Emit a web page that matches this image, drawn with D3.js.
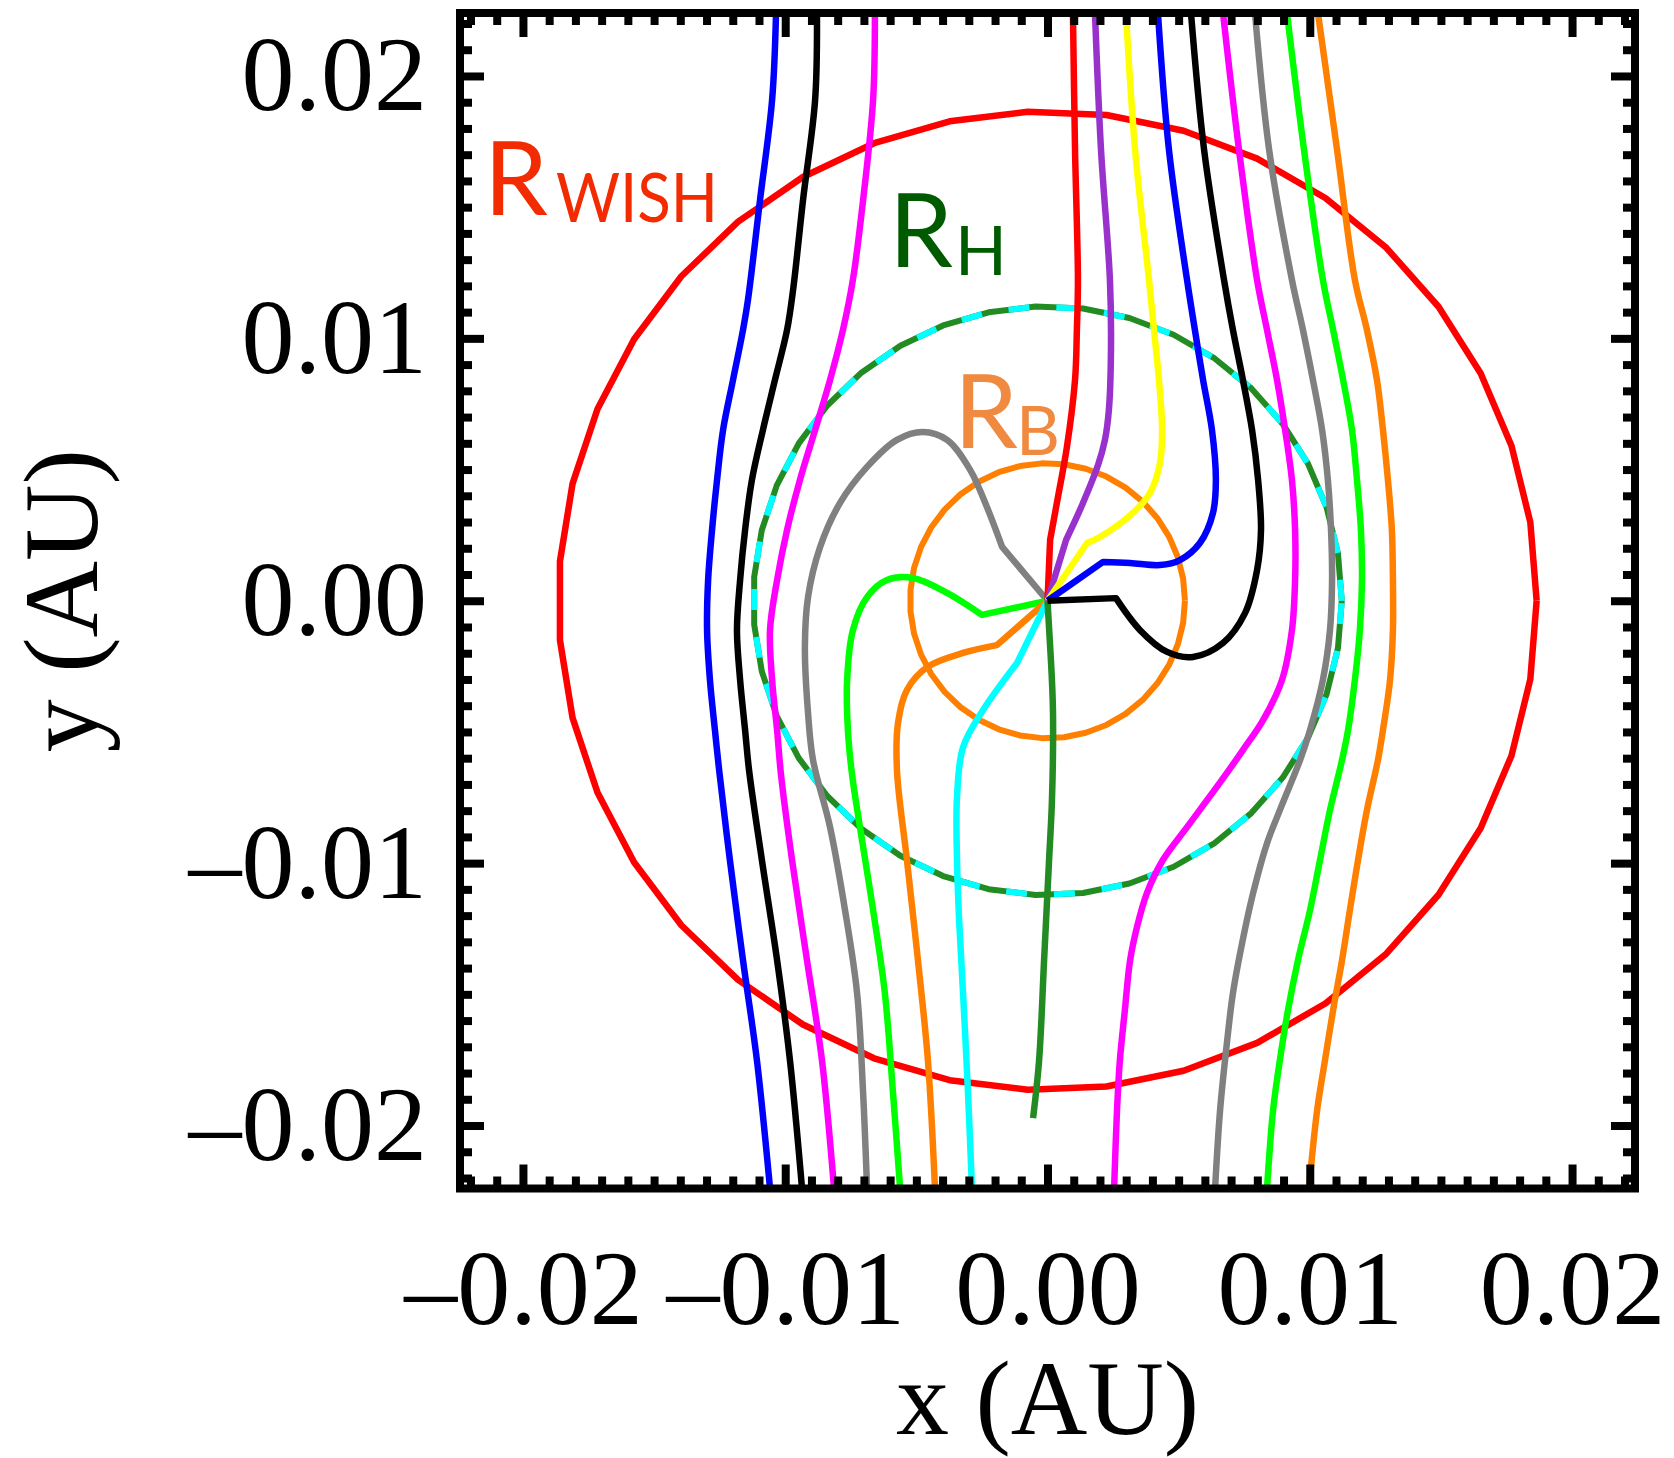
<!DOCTYPE html>
<html>
<head>
<meta charset="utf-8">
<script src="https://cdn.jsdelivr.net/npm/d3@7"></script>
<style>
  html, body { margin: 0; padding: 0; background: #ffffff; }
  svg { display: block; }
</style>
</head>
<body>
<svg id="chart" width="1674" height="1458"></svg>
<script>
// ---- Field lines, [x, y] in AU ----
// lines that pass the planet on the left, top edge to bottom edge
const blueLeft = [[-0.01035,0.02241],[-0.01050,0.01909],[-0.01096,0.01528],[-0.01142,0.01147],[-0.01161,0.01032],[-0.01199,0.00842],[-0.01237,0.00651],[-0.01260,0.00460],[-0.01279,0.00270],[-0.01294,0.00079],[-0.01298,-0.00112],[-0.01287,-0.00302],[-0.01268,-0.00493],[-0.01252,-0.00645],[-0.01211,-0.00988],[-0.01161,-0.01370],[-0.01108,-0.01751],[-0.01058,-0.02239]];
const blackLeft = [[-0.00879,0.02241],[-0.00886,0.01909],[-0.00932,0.01528],[-0.00970,0.01185],[-0.00993,0.01032],[-0.01039,0.00842],[-0.01085,0.00651],[-0.01127,0.00460],[-0.01153,0.00270],[-0.01172,0.00079],[-0.01184,-0.00112],[-0.01172,-0.00302],[-0.01153,-0.00493],[-0.01138,-0.00645],[-0.01089,-0.00988],[-0.01031,-0.01370],[-0.00982,-0.01751],[-0.00936,-0.02239]];
const magentaLeft = [[-0.00658,0.02241],[-0.00665,0.01909],[-0.00703,0.01528],[-0.00742,0.01223],[-0.00780,0.01032],[-0.00829,0.00842],[-0.00886,0.00651],[-0.00944,0.00460],[-0.00993,0.00270],[-0.01031,0.00079],[-0.01058,-0.00112],[-0.01050,-0.00302],[-0.01031,-0.00493],[-0.01016,-0.00664],[-0.00974,-0.00988],[-0.00917,-0.01370],[-0.00860,-0.01751],[-0.00814,-0.02239]];
// lines leaving the planet (origin first)
const grayLeft = [[0,0],[-0.00173,0.00205],[-0.00231,0.00357],[-0.00295,0.00499],[-0.00383,0.00613],[-0.00475,0.00643],[-0.00574,0.00613],[-0.00688,0.00510],[-0.00791,0.00373],[-0.00867,0.00205],[-0.00913,0.00014],[-0.00925,-0.00176],[-0.00913,-0.00428],[-0.00894,-0.00607],[-0.00829,-0.00863],[-0.00772,-0.01179],[-0.00726,-0.01496],[-0.00703,-0.01877],[-0.00688,-0.02239]];
const limeLeft = [[0,0],[-0.00250,-0.00054],[-0.00383,0.00030],[-0.00513,0.00087],[-0.00612,0.00079],[-0.00688,0.00014],[-0.00742,-0.00112],[-0.00764,-0.00302],[-0.00761,-0.00493],[-0.00745,-0.00664],[-0.00715,-0.00863],[-0.00665,-0.01179],[-0.00620,-0.01496],[-0.00589,-0.01877],[-0.00562,-0.02239]];
const orangeLeft = [[0,0],[-0.00193,-0.00169],[-0.00322,-0.00199],[-0.00459,-0.00253],[-0.00536,-0.00340],[-0.00570,-0.00466],[-0.00574,-0.00645],[-0.00536,-0.00988],[-0.00494,-0.01370],[-0.00456,-0.01751],[-0.00429,-0.02239]];
const cyanLine = [[0,0],[-0.00116,-0.00237],[-0.00246,-0.00417],[-0.00322,-0.00558],[-0.00345,-0.00748],[-0.00345,-0.00988],[-0.00337,-0.01217],[-0.00322,-0.01496],[-0.00303,-0.01877],[-0.00288,-0.02239]];
const forestLine = [[0,0],[0.00013,-0.00226],[0.00021,-0.00428],[0.00017,-0.00760],[0.00006,-0.00988],[-0.00013,-0.01370],[-0.00032,-0.01751],[-0.00055,-0.01972]];
const redLine = [[0,0],[0.00010,0.00232],[0.00040,0.00396],[0.00074,0.00586],[0.00105,0.00842],[0.00112,0.01032],[0.00116,0.01223],[0.00105,0.01719],[0.00097,0.02241]];
const purpleLine = [[0,0],[0.00071,0.00232],[0.00132,0.00365],[0.00193,0.00518],[0.00219,0.00613],[0.00234,0.00727],[0.00242,0.00956],[0.00238,0.01223],[0.00204,0.01719],[0.00181,0.02241]];
const yellowLine = [[0,0],[0.00151,0.00220],[0.00200,0.00243],[0.00326,0.00335],[0.00391,0.00411],[0.00429,0.00525],[0.00437,0.00651],[0.00425,0.00842],[0.00406,0.01032],[0.00387,0.01223],[0.00334,0.01719],[0.00299,0.02241]];
const blueRight = [[0,0],[0.00212,0.00148],[0.00315,0.00144],[0.00429,0.00136],[0.00505,0.00155],[0.00581,0.00220],[0.00631,0.00335],[0.00642,0.00460],[0.00627,0.00651],[0.00593,0.00842],[0.00562,0.01032],[0.00532,0.01223],[0.00463,0.01719],[0.00421,0.02241]];
const blackRight = [[0,0],[0.00261,0.00010],[0.00353,-0.00112],[0.00456,-0.00195],[0.00555,-0.00214],[0.00669,-0.00161],[0.00753,-0.00047],[0.00799,0.00117],[0.00814,0.00270],[0.00803,0.00460],[0.00780,0.00651],[0.00745,0.00842],[0.00707,0.01032],[0.00673,0.01223],[0.00597,0.01719],[0.00547,0.02241]];
// lines that pass the planet on the right, top edge to bottom edge
const magentaRight = [[0.00669,0.02241],[0.00730,0.01719],[0.00799,0.01223],[0.00837,0.01032],[0.00875,0.00842],[0.00906,0.00651],[0.00932,0.00460],[0.00944,0.00270],[0.00944,0.00079],[0.00932,-0.00112],[0.00894,-0.00302],[0.00822,-0.00455],[0.00745,-0.00569],[0.00665,-0.00683],[0.00532,-0.00863],[0.00440,-0.00988],[0.00379,-0.01114],[0.00341,-0.01244],[0.00315,-0.01370],[0.00295,-0.01560],[0.00276,-0.01751],[0.00265,-0.01942],[0.00254,-0.02239]];
const grayRight = [[0.00791,0.02241],[0.00845,0.01719],[0.00932,0.01223],[0.00974,0.01032],[0.01012,0.00842],[0.01047,0.00651],[0.01069,0.00460],[0.01081,0.00270],[0.01085,0.00079],[0.01077,-0.00112],[0.01050,-0.00302],[0.01001,-0.00493],[0.00963,-0.00607],[0.00886,-0.00798],[0.00837,-0.00924],[0.00784,-0.01114],[0.00742,-0.01305],[0.00707,-0.01496],[0.00684,-0.01686],[0.00658,-0.01942],[0.00639,-0.02239]];
const limeRight = [[0.00913,0.02241],[0.00978,0.01719],[0.01050,0.01223],[0.01089,0.01032],[0.01127,0.00842],[0.01161,0.00651],[0.01180,0.00460],[0.01195,0.00270],[0.01199,0.00079],[0.01191,-0.00112],[0.01172,-0.00302],[0.01146,-0.00493],[0.01123,-0.00607],[0.01077,-0.00798],[0.01039,-0.00988],[0.01001,-0.01179],[0.00955,-0.01370],[0.00917,-0.01560],[0.00886,-0.01751],[0.00860,-0.01942],[0.00837,-0.02239]];
const orangeRight = [[0.01031,0.02241],[0.01104,0.01719],[0.01172,0.01223],[0.01218,0.01032],[0.01256,0.00842],[0.01279,0.00651],[0.01298,0.00460],[0.01313,0.00270],[0.01317,0.00079],[0.01317,-0.00112],[0.01306,-0.00302],[0.01279,-0.00493],[0.01260,-0.00607],[0.01218,-0.00798],[0.01184,-0.00988],[0.01153,-0.01179],[0.01123,-0.01370],[0.01089,-0.01560],[0.01058,-0.01751],[0.01028,-0.01942],[0.00997,-0.02239]];

// ---- Characteristic radii (AU) ----
const rWish = 0.01865;
const rHill = 0.01122;
const rBondi = 0.00524;

// ---- Axes ----
const xDomain = [-0.0224, 0.0224];
const yDomain = [-0.0224, 0.0224];
const xTicks = [-0.02, -0.01, 0.00, 0.01, 0.02];
const yTicks = [-0.02, -0.01, 0.00, 0.01, 0.02];
const xTitle = "x (AU)";
const yTitle = "y (AU)";

const svg = d3.select("#chart");
const x = d3.scaleLinear().domain(xDomain).range([460, 1635]);
const y = d3.scaleLinear().domain(yDomain).range([1188.5, 13]);

svg.append("rect").attr("width", 1674).attr("height", 1458).attr("fill", "#ffffff");

svg.append("defs").append("clipPath").attr("id", "plot-clip")
  .append("rect")
  .attr("x", x.range()[0]).attr("y", y.range()[1])
  .attr("width", x.range()[1] - x.range()[0])
  .attr("height", y.range()[0] - y.range()[1]);

const plot = svg.append("g").attr("clip-path", "url(#plot-clip)");

const straight = d3.line().x(d => x(d[0])).y(d => y(d[1])).curve(d3.curveLinear);
const smooth = d3.line().x(d => x(d[0])).y(d => y(d[1])).curve(d3.curveCatmullRom.alpha(0.5));

// straight stub from the planet to the first bend, smooth curve after it
function fieldPath(pts, kink) {
  if (!kink) return smooth(pts);
  const head = straight(pts.slice(0, kink + 1));
  const tail = smooth(pts.slice(kink)).replace(/^M[\d.,\-\s]*/, "");
  return head + tail;
}

// 39-segment polygon of a given radius around the planet
function ring(r) {
  return d3.range(40).map(k => {
    const t = 2 * Math.PI * k / 39;
    return [r * Math.cos(t), r * Math.sin(t)];
  });
}

// circles
plot.append("path").attr("d", straight(ring(rWish)))
  .attr("fill", "none").attr("stroke", "#ff0000").attr("stroke-width", 6.5).attr("stroke-linejoin", "round");
plot.append("path").attr("d", straight(ring(rHill)))
  .attr("fill", "none").attr("stroke", "#228b22").attr("stroke-width", 6).attr("stroke-linejoin", "round");
plot.append("path").attr("d", straight(ring(rHill)))
  .attr("fill", "none").attr("stroke", "#00ffff").attr("stroke-width", 6)
  .attr("stroke-dasharray", "21 27");
plot.append("path").attr("d", straight(ring(rBondi)))
  .attr("fill", "none").attr("stroke", "#ff8000").attr("stroke-width", 6).attr("stroke-linejoin", "round");

const fieldLines = [
  { pts: blueLeft, color: "#0000ff" },
  { pts: blackLeft, color: "#000000" },
  { pts: magentaLeft, color: "#ff00ff" },
  { pts: grayLeft, color: "#808080", kink: 1 },
  { pts: limeLeft, color: "#00ff00", kink: 1 },
  { pts: orangeLeft, color: "#ff8000", kink: 1 },
  { pts: cyanLine, color: "#00ffff", kink: 1 },
  { pts: forestLine, color: "#228b22", kink: 1 },
  { pts: redLine, color: "#ff0000", kink: 1 },
  { pts: purpleLine, color: "#9932cc", kink: 1 },
  { pts: yellowLine, color: "#ffff00", kink: 1 },
  { pts: blueRight, color: "#0000ff", kink: 1 },
  { pts: blackRight, color: "#000000", kink: 1 },
  { pts: magentaRight, color: "#ff00ff" },
  { pts: grayRight, color: "#808080" },
  { pts: limeRight, color: "#00ff00" },
  { pts: orangeRight, color: "#ff8000" }
];

plot.selectAll("path.field").data(fieldLines).join("path")
  .attr("class", "field")
  .attr("d", d => fieldPath(d.pts, d.kink))
  .attr("fill", "none")
  .attr("stroke", d => d.color)
  .attr("stroke-width", 6.5)
  .attr("stroke-linejoin", "round")
  .attr("stroke-linecap", "butt");

// ---- Region labels ----
const labelFont = "Lato, 'Open Sans', sans-serif";
const regionLabels = [
  { main: "R", sub: "WISH", color: "#f22b00", x: 484, y: 215, subX: 556, subY: 222, subLen: 162 },
  { main: "R", sub: "H", color: "#005a00", x: 889, y: 267, subX: 955, subY: 275 },
  { main: "R", sub: "B", color: "#f08a40", x: 954, y: 448, subX: 1016, subY: 455 }
];
regionLabels.forEach(l => {
  const t = svg.append("text").attr("font-family", labelFont).attr("fill", l.color);
  t.append("tspan").attr("x", l.x).attr("y", l.y).attr("font-size", 102).text(l.main);
  const s = t.append("tspan").attr("x", l.subX).attr("y", l.subY).attr("font-size", 68).text(l.sub);
  if (l.subLen) s.attr("textLength", l.subLen).attr("lengthAdjust", "spacingAndGlyphs");
});

// ---- Frame and ticks ----
svg.append("rect")
  .attr("x", x.range()[0]).attr("y", y.range()[1])
  .attr("width", x.range()[1] - x.range()[0])
  .attr("height", y.range()[0] - y.range()[1])
  .attr("fill", "none").attr("stroke", "#000").attr("stroke-width", 8);

const minorTicks = d3.range(-22, 23).filter(i => i % 10 !== 0).map(i => i / 1000);
const fmt = v => d3.format(".2f")(v).replace(/[-\u2212]/, "\u2013");
const tickFont = "'Liberation Serif', 'Times New Roman', Times, serif";

function styleAxis(g) {
  g.select(".domain").remove();
  g.selectAll(".tick line").attr("stroke", "#000").attr("stroke-width", 8);
  g.selectAll(".tick text").attr("font-family", tickFont).attr("font-size", 106).attr("fill", "#000");
}

const xb = y.range()[0], yt = y.range()[1], xl = x.range()[0], xr = x.range()[1];

svg.append("g").attr("transform", `translate(0,${xb})`)
  .call(d3.axisBottom(x).tickValues(xTicks).tickSizeInner(-24).tickSizeOuter(0).tickPadding(60).tickFormat(fmt))
  .call(styleAxis);
svg.append("g").attr("transform", `translate(0,${xb})`)
  .call(d3.axisBottom(x).tickValues(minorTicks).tickSizeInner(-12).tickSizeOuter(0).tickFormat(""))
  .call(styleAxis);
svg.append("g").attr("transform", `translate(0,${yt})`)
  .call(d3.axisTop(x).tickValues(xTicks).tickSizeInner(-24).tickSizeOuter(0).tickFormat(""))
  .call(styleAxis);
svg.append("g").attr("transform", `translate(0,${yt})`)
  .call(d3.axisTop(x).tickValues(minorTicks).tickSizeInner(-12).tickSizeOuter(0).tickFormat(""))
  .call(styleAxis);
svg.append("g").attr("transform", `translate(${xl},0)`)
  .call(d3.axisLeft(y).tickValues(yTicks).tickSizeInner(-24).tickSizeOuter(0).tickPadding(33).tickFormat(fmt))
  .call(styleAxis);
svg.append("g").attr("transform", `translate(${xl},0)`)
  .call(d3.axisLeft(y).tickValues(minorTicks).tickSizeInner(-12).tickSizeOuter(0).tickFormat(""))
  .call(styleAxis);
svg.append("g").attr("transform", `translate(${xr},0)`)
  .call(d3.axisRight(y).tickValues(yTicks).tickSizeInner(-24).tickSizeOuter(0).tickFormat(""))
  .call(styleAxis);
svg.append("g").attr("transform", `translate(${xr},0)`)
  .call(d3.axisRight(y).tickValues(minorTicks).tickSizeInner(-12).tickSizeOuter(0).tickFormat(""))
  .call(styleAxis);

// ---- Axis titles ----
svg.append("text")
  .attr("x", x(0)).attr("y", 1434)
  .attr("text-anchor", "middle")
  .attr("font-family", tickFont).attr("font-size", 106).attr("fill", "#000")
  .text(xTitle);
svg.append("text")
  .attr("transform", `translate(97,${y(0)}) rotate(-90)`)
  .attr("text-anchor", "middle")
  .attr("font-family", tickFont).attr("font-size", 106).attr("fill", "#000")
  .text(yTitle);
</script>
</body>
</html>
